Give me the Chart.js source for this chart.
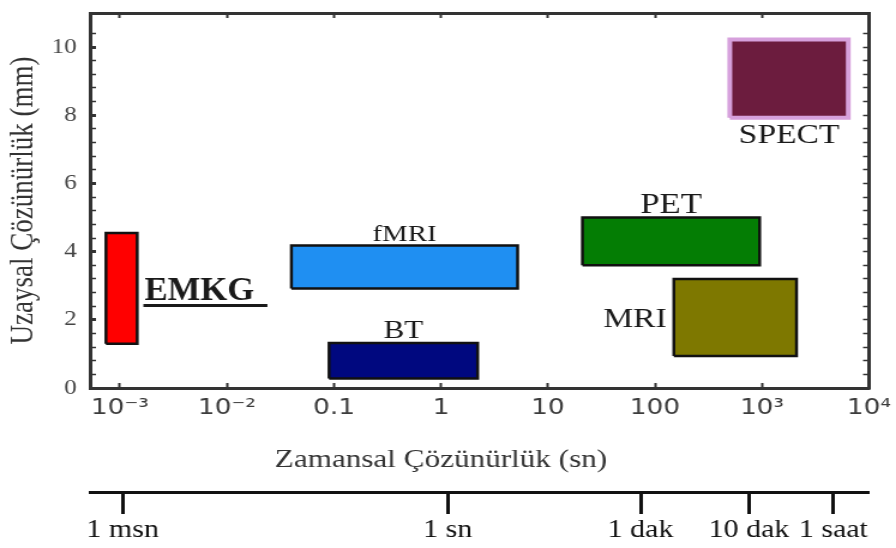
<!DOCTYPE html>
<html>
<head>
<meta charset="utf-8">
<script src="https://cdn.jsdelivr.net/npm/chart.js@4.4.1/dist/chart.umd.min.js"></script>
<style>
  html, body { margin: 0; padding: 0; background: #fff; overflow: hidden; }
  /* the original picture is stretched sideways, so the chart is drawn narrow and widened */
  .div__grafico { width: 747px; height: 548px; transform: scaleX(1.1995); transform-origin: 0 0; }
</style>
</head>
<body>
<div class="div__grafico"><canvas id="grafico"></canvas></div>
<script>
const tecnicas = ['EMKG', 'fMRI', 'BT', 'PET', 'MRI', 'SPECT']
const zamanMin = [0.00074, 0.04, 0.09, 21, 150, 500]
const zamanMax = [0.00145, 5.2, 2.2, 950, 2100, 6400]
const uzaysalMin = [1.3, 2.92, 0.28, 3.6, 0.94, 7.93]
const uzaysalMax = [4.55, 4.18, 1.32, 5.0, 3.2, 10.22]

const xTickDegerleri = [0.001, 0.01, 0.1, 1, 10, 100, 1000, 10000]
const xTickEtiketleri = ['10⁻³', '10⁻²', '0.1', '1', '10', '100', '10³', '10⁴']
const zamanDegerleri = [0.001, 1, 60, 600, 3600]
const zamanEtiketleri = ['1 msn', '1 sn', '1 dak', '10 dak', '1 saat']

const serif = "'Liberation Serif', 'Times New Roman', serif"

const renkler = {
  EMKG: '#ff0000', fMRI: '#1f8ff2', BT: '#00087f',
  PET: '#047d04', MRI: '#7e7800', SPECT: '#6c1c3e'
}
const kenarRenkleri = { SPECT: '#d6a0dc' }
const etiketStili = {
  EMKG: { yer: 'sag', size: 34, bold: true },
  fMRI: { yer: 'ust', size: 24 },
  BT: { yer: 'ust', size: 26 },
  PET: { yer: 'ust', size: 29 },
  MRI: { yer: 'sol', size: 28 },
  SPECT: { yer: 'alt', size: 28 }
}

const datasets = tecnicas.map((ad, i) => ({
  label: ad,
  data: [
    { x: zamanMin[i], y: uzaysalMin[i] },
    { x: zamanMax[i], y: uzaysalMin[i] },
    { x: zamanMax[i], y: uzaysalMax[i] },
    { x: zamanMin[i], y: uzaysalMax[i] },
    { x: zamanMin[i], y: uzaysalMin[i] }
  ],
  showLine: true,
  fill: 'shape',
  backgroundColor: renkler[ad],
  borderColor: kenarRenkleri[ad] || '#111',
  borderWidth: ad === 'SPECT' ? 4 : 2.5,
  borderJoinStyle: 'miter',
  pointRadius: 0,
  tension: 0
}))

// box names and the x axis title
const etiketlerPlugin = {
  id: 'etiketler',
  afterDatasetsDraw(chart) {
    const { ctx, scales: { x, y } } = chart
    tecnicas.forEach((ad, i) => {
      const sol = x.getPixelForValue(zamanMin[i])
      const sag = x.getPixelForValue(zamanMax[i])
      const ust = y.getPixelForValue(uzaysalMax[i])
      const alt = y.getPixelForValue(uzaysalMin[i])
      const st = etiketStili[ad]
      const cap = st.size * 0.66
      ctx.save()
      ctx.fillStyle = '#1a1a1a'
      ctx.font = (st.bold ? 'bold ' : '') + st.size + 'px ' + serif
      ctx.textBaseline = 'alphabetic'
      if (st.yer === 'ust') {
        ctx.textAlign = 'center'
        ctx.fillText(ad, (sol + sag) / 2, ust - 5)
      } else if (st.yer === 'alt') {
        ctx.textAlign = 'center'
        ctx.fillText(ad, (sol + sag) / 2, alt + 7 + cap)
      } else if (st.yer === 'sol') {
        ctx.textAlign = 'right'
        ctx.fillText(ad, sol - 6, (ust + alt) / 2 + cap / 2)
      } else {
        const x0 = sag + 6
        const y0 = (ust + alt) / 2 + cap / 2
        ctx.translate(x0, y0)
        ctx.scale(0.85, 1)
        ctx.textAlign = 'left'
        ctx.fillText(ad, 0, 0)
        const w = ctx.measureText(ad).width
        ctx.fillRect(-1, 4.5, w + 14, 3)
      }
      ctx.restore()
    })

    ctx.save()
    ctx.fillStyle = '#333'
    ctx.font = '26px ' + serif
    ctx.textAlign = 'center'
    ctx.textBaseline = 'alphabetic'
    ctx.fillText('Zamansal Çözünürlük (sn)', x.getPixelForValue(1), 467)
    ctx.restore()
  }
}

const anaTick = v => Math.abs(v / 2 - Math.round(v / 2)) < 1e-6

const cerceve = { display: true, color: '#333', width: 3 }

// fixed axis sizes, no extra room for half labels
const boyut = (w, h) => s => {
  if (w !== null) s.width = w
  if (h !== null) s.height = h
  s.paddingTop = 0
  s.paddingBottom = 0
  s.paddingLeft = 0
  s.paddingRight = 0
}

new Chart(document.getElementById('grafico'), {
  type: 'scatter',
  data: { datasets },
  options: {
    responsive: true,
    maintainAspectRatio: false,
    animation: false,
    layout: { padding: 0 },
    plugins: { legend: { display: false }, tooltip: { enabled: false } },
    scales: {
      x: {
        type: 'logarithmic',
        position: 'bottom',
        weight: 0,
        min: Math.pow(10, -3.28),
        max: 10000,
        border: cerceve,
        grid: { drawOnChartArea: false, tickLength: -5, tickColor: '#333', tickWidth: 2 },
        afterBuildTicks: s => { s.ticks = xTickDegerleri.map(v => ({ value: v })) },
        afterFit: boyut(null, 104),
        ticks: {
          autoSkip: false, maxRotation: 0, padding: 12,
          color: '#3c3c3c',
          font: { family: "'DejaVu Sans', sans-serif", size: 22 },
          callback: (v, i) => xTickEtiketleri[i]
        }
      },
      x2: {
        type: 'logarithmic',
        position: 'bottom',
        weight: 1,
        min: Math.pow(10, -3.301),
        max: Math.pow(10, 3.886),
        border: { display: true, color: '#111', width: 3 },
        grid: { drawOnChartArea: false, tickLength: 22, tickColor: '#111', tickWidth: 3 },
        afterBuildTicks: s => { s.ticks = zamanDegerleri.map(v => ({ value: v })) },
        afterFit: boyut(null, 56),
        ticks: {
          autoSkip: false, maxRotation: 0, padding: 1,
          color: '#111',
          font: { family: serif, size: 25 },
          callback: (v, i) => zamanEtiketleri[i]
        }
      },
      xTop: {
        type: 'logarithmic',
        position: 'top',
        min: Math.pow(10, -3.28),
        max: 10000,
        border: cerceve,
        grid: { drawOnChartArea: false, tickLength: -5, tickColor: '#333', tickWidth: 2 },
        afterBuildTicks: s => { s.ticks = xTickDegerleri.map(v => ({ value: v })) },
        afterFit: boyut(null, 13),
        ticks: { display: false }
      },
      y: {
        position: 'left',
        min: 0,
        max: 11,
        border: cerceve,
        grid: {
          drawOnChartArea: false, tickLength: -5, tickColor: '#333',
          tickWidth: c => (c.tick && anaTick(c.tick.value) ? 3 : 1.5)
        },
        afterFit: boyut(75, null),
        ticks: {
          stepSize: 0.4, maxTicksLimit: 40, autoSkip: false, padding: 16,
          color: '#444',
          font: { family: serif, size: 21 },
          callback: v => (anaTick(v) ? String(Math.round(v)) : '')
        },
        title: {
          display: true,
          text: 'Uzaysal Çözünürlük (mm)',
          color: '#333',
          font: { family: serif, size: 27 },
          padding: { top: 4, bottom: 0 }
        }
      },
      yRight: {
        position: 'right',
        min: 0,
        max: 11,
        border: cerceve,
        grid: { drawOnChartArea: false, tickLength: -5, tickColor: '#333', tickWidth: 1.5 },
        afterFit: boyut(22.5, null),
        ticks: { stepSize: 0.4, maxTicksLimit: 40, autoSkip: false, display: false }
      }
    }
  },
  plugins: [etiketlerPlugin]
})
</script>
</body>
</html>
